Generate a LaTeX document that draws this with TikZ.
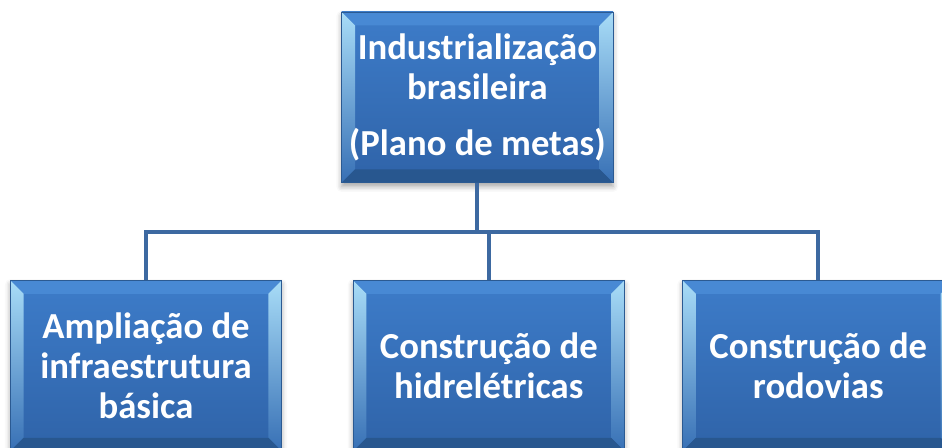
\documentclass[tikz,border=0pt]{standalone}
\usepackage{fontspec}
\setmainfont{Carlito}
\usetikzlibrary{positioning,shadows.blur}

\definecolor{boxtop}{HTML}{3D7CC9}
\definecolor{boxbot}{HTML}{2F63A8}
\definecolor{boxedge}{HTML}{2B5A92}
\definecolor{bevtop}{HTML}{4889D4}
\definecolor{bevbot}{HTML}{28578F}
\definecolor{bevlight}{HTML}{A8DCF7}
\definecolor{linkcol}{HTML}{3D69A1}

\newcommand{\bev}{10pt}

\tikzset{
  box/.style={rectangle, draw=boxedge, line width=0.6pt,
    top color=boxtop, bottom color=boxbot,
    minimum width=203.5pt, minimum height=128pt, inner sep=0pt,
    align=center, text=white,
    font=\bfseries\fontsize{27.5}{30}\selectfont,
    blur shadow={shadow xshift=0pt, shadow yshift=-3pt,
      shadow blur radius=4pt, shadow opacity=35},
    path picture={
      \path (path picture bounding box.north west) coordinate (nw)
            (path picture bounding box.north east) coordinate (ne)
            (path picture bounding box.south west) coordinate (sw)
            (path picture bounding box.south east) coordinate (se);
      \fill[bevtop] (nw) -- (ne) -- ([shift={(-\bev,-\bev)}]ne)
        -- ([shift={(\bev,-\bev)}]nw) -- cycle;
      \shade[top color=bevlight, bottom color=boxtop!90!black]
        (nw) -- ([shift={(\bev,-\bev)}]nw) -- ([shift={(\bev,\bev)}]sw)
        -- (sw) -- cycle;
      \shade[top color=bevlight, bottom color=boxtop!90!black]
        (ne) -- ([shift={(-\bev,-\bev)}]ne) -- ([shift={(-\bev,\bev)}]se)
        -- (se) -- cycle;
      \fill[bevbot] (sw) -- ([shift={(\bev,\bev)}]sw)
        -- ([shift={(-\bev,\bev)}]se) -- (se) -- cycle;
    }},
  link/.style={draw=linkcol, line width=3pt},
}

\begin{document}
\begin{tikzpicture}
  \useasboundingbox (0,0) rectangle (706.5pt,-336pt);

  \node[box] (plano) at (358pt,-73pt)
    {Industrialização\\brasileira\\[12pt](Plano de metas)};
  \node[box] (hidro) [below=72.75pt of plano, xshift=8.6pt]
    {Construção de\\hidrelétricas};
  \node[box] (infra) [left=53pt of hidro]
    {Ampliação de\\infraestrutura\\básica};
  \node[box] (rodov) [right=43pt of hidro]
    {Construção de\\rodovias};

  \draw[link] (plano.south) -- ++(0,-36.5pt) coordinate (bar);
  \draw[link] (infra.north) |- (bar);
  \draw[link] (rodov.north) |- (bar);
  \draw[link] (hidro.north) -- (hidro.north |- bar);
\end{tikzpicture}
\end{document}
